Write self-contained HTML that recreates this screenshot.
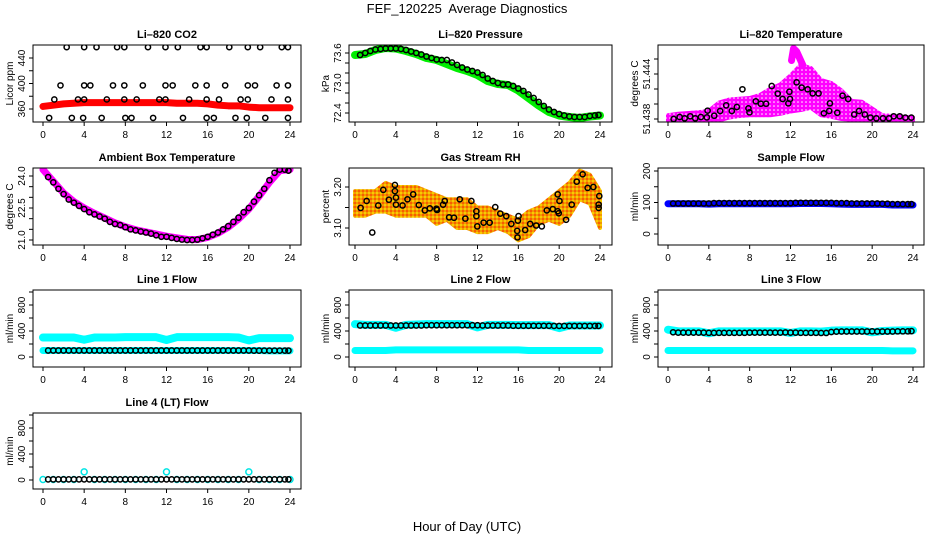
<!DOCTYPE html>
<html><head><meta charset="utf-8"><style>
html,body{margin:0;padding:0;background:#fff}
svg{display:block;font-family:"Liberation Sans",sans-serif}
</style></head><body>
<svg id="c" width="936" height="540" viewBox="0 0 936 540">
<defs>
<pattern id="rhpat" width="4" height="4" patternUnits="userSpaceOnUse"><rect width="4" height="4" fill="#f29a00"/><circle cx="1" cy="1" r="0.9" fill="#ffee00"/><circle cx="3" cy="3" r="0.9" fill="#ff3300"/></pattern>
<pattern id="ltpat" width="4" height="4" patternUnits="userSpaceOnUse"><rect width="4" height="4" fill="#ff00ff"/><circle cx="2" cy="2" r="0.8" fill="#ffffff"/></pattern>
</defs>
<text x="467" y="13" font-size="13" text-anchor="middle" style="white-space:pre">FEF_120225  Average Diagnostics</text>
<text x="467" y="531" font-size="13" text-anchor="middle">Hour of Day (UTC)</text>
</svg>
<script>
// ---- data ----
const xTicks=[0,4,8,12,16,20,24];
const co2TopT=[2.3,4.0,5.2,7.2,7.9,10.2,11.9,13.1,15.3,15.9,18.1,19.9,21.1,23.2,23.8];
const co2T400=[1.7,4.0,4.6,6.8,7.9,9.7,11.9,12.6,14.8,15.9,17.7,19.9,20.6,22.7,23.8];
const co2T375=[1.1,3.4,4.0,6.2,7.9,9.1,11.3,11.9,14.2,15.9,17.1,19.2,19.9,22.2,23.8];
const co2T346=[0.6,2.8,3.9,5.7,8.0,8.6,10.7,13.6,15.9,16.6,18.7,19.8,21.6,23.8];
const co2Levels=[457,397,375,346];
const co2Red=[364,366,368,369,370,370,370,370,370,370,370,370,370,369,369,369,368,366,365,365,363,362,362,362,362];
const presGreen=[73.56,73.58,73.66,73.7,73.69,73.64,73.58,73.5,73.46,73.38,73.3,73.24,73.16,73.04,72.98,72.96,72.85,72.7,72.55,72.42,72.35,72.32,72.3,72.33,72.35];
const presBlack=[73.56,73.6,73.64,73.67,73.68,73.69,73.69,73.69,73.68,73.66,73.63,73.6,73.57,73.53,73.5,73.47,73.46,73.46,73.41,73.36,73.31,73.27,73.24,73.21,73.16,73.09,73.04,73.0,72.97,72.97,72.94,72.89,72.84,72.77,72.7,72.62,72.54,72.47,72.42,72.38,72.35,72.33,72.32,72.32,72.32,72.34,72.35,72.36];
const ltUpper=[51.4385,51.4387,51.4388,51.4389,51.4391,51.4402,51.4406,51.4407,51.4408,51.4412,51.4420,51.4426,51.4438,51.4452,51.4448,51.4432,51.4428,51.4418,51.4404,51.4403,51.4394,51.4385,51.4384,51.4383,51.4382];
const ltLower=[51.4377,51.4377,51.4377,51.4377,51.4377,51.4378,51.4382,51.4384,51.4385,51.4385,51.4385,51.4387,51.439,51.4392,51.4395,51.4385,51.4383,51.438,51.4379,51.4378,51.4377,51.4377,51.4377,51.4377,51.4377];
const ltPeakT=[12.1,12.3,12.6,13.2];
const ltPeakV=[51.4458,51.4474,51.4470,51.4452];
const ltT=[0.55,1.14,1.63,2.18,2.67,3.22,3.81,3.88,4.53,5.11,5.70,6.25,6.74,7.29,7.88,7.98,8.60,9.09,9.61,10.16,10.75,11.23,11.79,11.95,11.89,12.60,13.09,13.68,14.17,14.75,15.27,15.79,15.86,16.58,17.10,17.65,18.24,18.72,19.28,19.83,20.41,21.06,21.65,22.11,22.70,23.25,23.84];
const ltV=[51.4380,51.43827,51.43809,51.43836,51.43809,51.43827,51.43822,51.43911,51.43844,51.43907,51.43982,51.43907,51.43960,51.44196,51.43942,51.43889,51.44036,51.44004,51.44004,51.44240,51.44138,51.44067,51.44009,51.44067,51.44164,51.44289,51.44218,51.44196,51.44142,51.44142,51.43876,51.43907,51.44009,51.43884,51.44111,51.44067,51.43860,51.43907,51.43860,51.43818,51.43809,51.43809,51.43809,51.43836,51.43836,51.43818,51.43818];
const ambMag=[24.3,23.75,23.2,22.8,22.5,22.25,22.03,21.8,21.62,21.48,21.38,21.28,21.18,21.1,21.03,21.02,21.12,21.32,21.6,21.98,22.45,23.05,23.7,24.25,24.3];
const ambBlack=[23.95,23.7,23.4,23.15,22.9,22.75,22.6,22.45,22.3,22.2,22.1,22.0,21.85,21.75,21.7,21.6,21.5,21.45,21.4,21.35,21.3,21.22,21.15,21.15,21.1,21.05,21.02,21.0,21.0,21.02,21.08,21.15,21.25,21.35,21.5,21.65,21.85,22.05,22.3,22.5,22.8,23.1,23.4,23.8,24.15,24.3,24.3,24.25];
const rhUpper=[3.19,3.19,3.19,3.21,3.20,3.20,3.20,3.19,3.18,3.17,3.17,3.17,3.15,3.15,3.14,3.13,3.12,3.14,3.15,3.17,3.19,3.21,3.24,3.23,3.19];
const rhLower=[3.13,3.13,3.14,3.14,3.13,3.13,3.13,3.13,3.11,3.12,3.10,3.10,3.09,3.09,3.10,3.09,3.07,3.08,3.11,3.12,3.11,3.13,3.17,3.16,3.10];
const rhT=[0.55,1.14,1.69,2.28,2.77,3.32,3.91,3.91,4.01,4.01,4.66,5.14,5.70,6.25,6.84,7.33,7.98,8.04,8.79,8.63,9.22,9.70,10.26,10.81,11.40,11.89,11.89,11.98,12.60,13.19,13.74,14.23,14.82,15.31,15.89,15.96,16.02,15.92,16.67,17.16,17.75,18.30,18.79,19.37,19.86,19.86,19.96,20.03,20.68,21.23,21.72,22.30,22.79,23.35,23.93,23.87,23.87];
const rhV=[3.149,3.166,3.089,3.155,3.193,3.169,3.205,3.190,3.174,3.157,3.155,3.170,3.182,3.156,3.143,3.148,3.147,3.144,3.166,3.157,3.126,3.125,3.170,3.123,3.166,3.141,3.129,3.104,3.113,3.113,3.151,3.135,3.129,3.110,3.093,3.118,3.129,3.077,3.095,3.110,3.106,3.104,3.143,3.146,3.141,3.182,3.136,3.166,3.120,3.157,3.213,3.231,3.198,3.200,3.178,3.157,3.149];
const sampBlue=[96,96,96,96,95,96,96,96,96,96,96,96,96,97,97,97,96,95,94,94,94,94,92,92,92];
const sampBlack=[97,97,97,97,97,97,97,97,98,98,98,98,98,98,98,98,98,98,98,98,98,98,98,98,99,99,99,99,99,99,99,99,98,98,98,97,97,97,97,97,97,96,96,95,95,95,95,95];
const l1High=[300,300,300,300,265,300,300,300,305,305,305,305,262,305,305,305,305,305,305,300,255,290,290,290,290];
const l1Low=[100,100,100,100,100,100,100,100,100,100,100,100,100,100,100,100,100,100,100,100,100,100,95,95,95];
const l1Black=[100,100,100,100,100,100,100,100,100,100,100,100,100,100,100,100,100,100,100,100,100,100,100,100,100,100,100,100,100,100,100,100,100,100,100,100,100,100,100,100,98,98,98,98,98,98,98,98];
const l2High=[505,495,495,495,450,495,500,505,505,505,505,505,455,495,495,495,490,490,490,490,445,485,485,485,485];
const l2Low=[100,100,100,100,110,110,110,110,110,110,110,110,110,110,110,110,110,100,100,100,100,100,100,100,100];
const l2Black=[485,485,485,485,485,485,485,485,485,485,485,485,485,488,488,488,488,488,488,488,488,488,488,488,485,485,485,485,485,485,480,480,480,480,480,480,480,480,478,478,478,478,478,478,478,478,478,478];
const l3High=[420,395,395,395,365,395,395,395,395,395,395,395,370,395,395,390,405,410,410,410,380,400,405,410,410];
const l3Low=[100,100,100,100,100,100,100,100,100,100,100,100,100,100,100,100,100,100,100,100,100,100,95,95,95];
const l3Black=[380,375,375,375,375,375,375,372,372,372,372,372,372,372,372,375,375,375,375,375,375,375,378,375,375,372,372,372,372,370,370,385,390,392,392,392,392,392,392,395,392,392,392,392,395,395,395,398];
const l4Cyan=[8,8,8,8,125,8,8,8,8,8,8,8,125,8,8,8,8,8,8,8,125,8,8,8,8];
const l4Black=[10,10,10,10,10,10,10,10,10,10,10,10,10,10,10,10,10,10,10,10,10,10,10,10,10,10,10,10,10,10,10,10,10,10,10,10,10,10,10,10,10,10,10,10,10,10,10,10];
const hourT=[]; for(let i=0;i<=24;i++) hourT.push(i);
const halfT=[]; for(let i=1;i<=48;i++) halfT.push(i===48?23.85:i*0.5);

// ---- layout ----
const NS='http://www.w3.org/2000/svg';
const svg=document.getElementById('c');
const cols=[{l:33,r:301,x0:43,x24:290},{l:349,r:612,x0:355,x24:600},{l:658,r:924,x0:668,x24:913}];
const rows=[{t:45,b:122},{t:168,b:245},{t:290,b:367},{t:413,b:489}];
function mk(tag,attrs,parent){const e=document.createElementNS(NS,tag);for(const k in attrs)e.setAttribute(k,attrs[k]);(parent||svg).appendChild(e);return e;}
function panel(ci,ri,title,ylab,ya,ypa,yb,ypb,ticks,labels,name){
  const c=cols[ci],r=rows[ri];
  const g=mk('g',{});
  
  
  const xs=t=>c.x0+(c.x24-c.x0)*t/24;
  const ys=v=>ypa+(ypb-ypa)*(v-ya)/(yb-ya);
  const clipId='cl'+ci+ri;
  const cp=mk('clipPath',{id:clipId},g);mk('rect',{x:c.l,y:r.t,width:c.r-c.l,height:r.b-r.t},cp);
  const plot=mk('g',{'clip-path':'url(#'+clipId+')'},g);
  
  
  const tt=mk('text',{x:(c.l+c.r)/2,y:r.t-7,'font-size':11,'font-weight':'bold','text-anchor':'middle'},g);tt.textContent=title;
  
  
  const box=mk('rect',{x:c.l,y:r.t,width:c.r-c.l,height:r.b-r.t,fill:'none',stroke:'#000','stroke-width':1},g);
  
  
  const xa=mk('g',{},g);
  
  
  mk('line',{x1:xs(0),x2:xs(24),y1:r.b,y2:r.b,stroke:'#000'},xa);
  xTicks.forEach(t=>{mk('line',{x1:xs(t),x2:xs(t),y1:r.b,y2:r.b+4,stroke:'#000'},xa);
    const tx=mk('text',{x:xs(t),y:r.b+16,'font-size':10,'text-anchor':'middle'},xa);tx.textContent=t;});
  const yaG=mk('g',{},g);
  
  
  ticks.forEach((v,i)=>{const y=ys(v);mk('line',{x1:c.l-4,x2:c.l,y1:y,y2:y,stroke:'#000'},yaG);
    if(labels[i]){const tx=mk('text',{x:c.l-8,y:y,'font-size':10,'text-anchor':'middle',transform:'rotate(-90 '+(c.l-8)+' '+y+')'},yaG);tx.textContent=labels[i];}});
  const yl=mk('text',{x:c.l-20,y:(r.t+r.b)/2,'font-size':10,'text-anchor':'middle',transform:'rotate(-90 '+(c.l-20)+' '+((r.t+r.b)/2)+')'},g);yl.textContent=ylab;
  
  
  return {xs,ys,plot};
}
function band(P,ts,vs,color,w,name){
  const pl=mk('polyline',{points:ts.map((t,i)=>P.xs(t)+','+P.ys(vs[i])).join(' '),fill:'none',stroke:color,'stroke-width':w,'stroke-linecap':'round','stroke-linejoin':'round'},P.plot);
  
  
}
function area(P,ts,up,lo,color,name){
  const pts=ts.map((t,i)=>P.xs(t)+','+P.ys(up[i])).concat(ts.slice().reverse().map((t,j)=>P.xs(t)+','+P.ys(lo[ts.length-1-j])));
  const pg=mk('polygon',{points:pts.join(' '),fill:color,stroke:color,'stroke-width':4,'stroke-linejoin':'round'},P.plot);
  
  
}
function pts(P,ts,vs,color,name,r){
  const g=mk('g',{},P.plot);
  
  
  ts.forEach((t,i)=>mk('circle',{cx:P.xs(t),cy:P.ys(vs[i]),r:r||2.6,fill:'none',stroke:color,'stroke-width':1.5},g));
}

let P=panel(0,0,'Li\u2013820 CO2','Licor ppm',360,109,440,58,[360,380,400,420,440],['360','','400','','440'],'co2');
band(P,hourT,co2Red,'#ff0000',7,'co2-red-band');
[co2TopT,co2T400,co2T375,co2T346].forEach((ts,k)=>pts(P,ts,ts.map(()=>co2Levels[k]),'#000','co2-points-'+k));
P=panel(1,0,'Li\u2013820 Pressure','kPa',72.4,113,73.6,53,[72.4,72.6,72.8,73.0,73.2,73.4,73.6],['72.4','','','73.0','','','73.6'],'pressure');
band(P,hourT,presGreen,'#00ee00',8,'pressure-green-band');
pts(P,halfT,presBlack,'#000','pressure-points');
P=panel(2,0,'Li\u2013820 Temperature','degrees C',51.438,119,51.446,59,[51.438,51.440,51.442,51.444,51.446],['51.438','','','51.444',''],'li-temp');
area(P,hourT,ltUpper,ltLower,'url(#ltpat)','li-temp-magenta-band');
band(P,ltPeakT,ltPeakV,'#ff00ff',7,'li-temp-peak');
pts(P,ltT,ltV,'#000','li-temp-points');
P=panel(0,1,'Ambient Box Temperature','degrees C',21,240,24,176,[21,21.5,22,22.5,23,23.5,24],['21.0','','','22.5','','','24.0'],'ambient');
band(P,hourT,ambMag,'#ff00ff',7,'ambient-magenta-band');
pts(P,halfT,ambBlack,'#000','ambient-points');
P=panel(1,1,'Gas Stream RH','percent',3.10,228,3.20,187,[3.10,3.15,3.20],['3.10','','3.20'],'rh');
area(P,hourT,rhUpper,rhLower,'url(#rhpat)','rh-orange-band');
pts(P,rhT,rhV,'#000','rh-points');
P=panel(2,1,'Sample Flow','ml/min',0,234,200,171,[0,50,100,150,200],['0','','100','','200'],'sample-flow');
band(P,hourT,sampBlue,'#0000ff',7,'sample-flow-blue-band');
pts(P,halfT,sampBlack,'#000','sample-flow-points');
const fT=[0,200,400,600,800,1000],fL=['0','','400','','800',''];
P=panel(0,2,'Line 1 Flow','ml/min',0,357,800,305,fT,fL,'line1');
band(P,hourT,l1High,'#00ffff',8,'line1-cyan-high');band(P,hourT,l1Low,'#00ffff',7,'line1-cyan-low');
pts(P,halfT,l1Black,'#000','line1-points');
P=panel(1,2,'Line 2 Flow','ml/min',0,357,800,305,fT,fL,'line2');
band(P,hourT,l2High,'#00ffff',8,'line2-cyan-high');band(P,hourT,l2Low,'#00ffff',7,'line2-cyan-low');
pts(P,halfT,l2Black,'#000','line2-points');
P=panel(2,2,'Line 3 Flow','ml/min',0,357,800,305,fT,fL,'line3');
band(P,hourT,l3High,'#00ffff',8,'line3-cyan-high');band(P,hourT,l3Low,'#00ffff',7,'line3-cyan-low');
pts(P,halfT,l3Black,'#000','line3-points');
P=panel(0,3,'Line 4 (LT) Flow','ml/min',0,480,800,428,fT,fL,'line4');
pts(P,hourT,l4Cyan,'#00e5e5','line4-cyan-points',3);
pts(P,halfT,l4Black,'#000','line4-points');
</script>
</body></html>
